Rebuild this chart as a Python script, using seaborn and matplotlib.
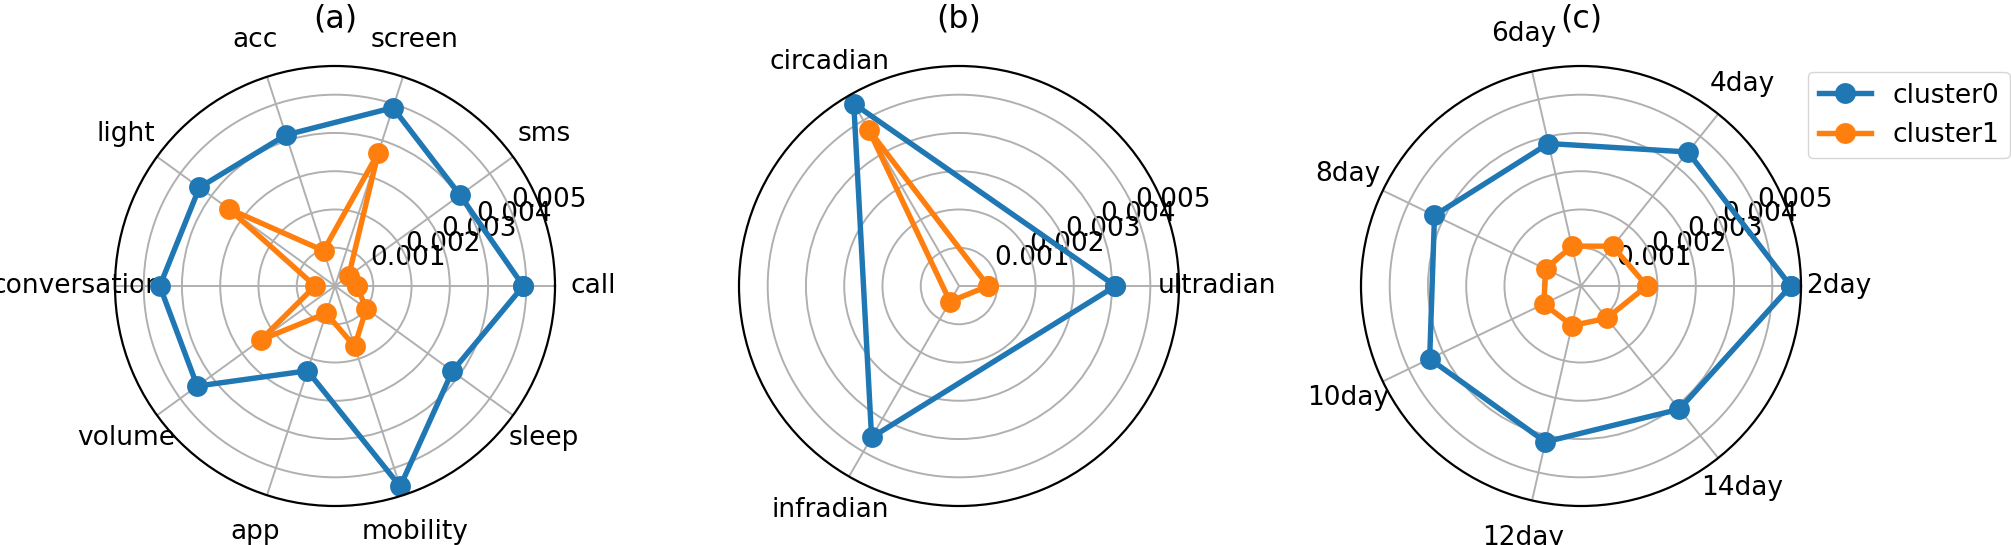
import numpy as np
import pandas as pd
import matplotlib
matplotlib.use("Agg")
import matplotlib.pyplot as plt
import seaborn as sns

# ---- data ----
feat_a = ["call", "sms", "screen", "acc", "light", "conversation",
          "volume", "app", "mobility", "sleep"]
c0_a = [0.00492, 0.00404, 0.00490, 0.00415, 0.00438, 0.00458,
        0.00445, 0.00233, 0.00551, 0.00379]
c1_a = [0.00057, 0.00044, 0.00366, 0.00097, 0.00344, 0.00052,
        0.00240, 0.00075, 0.00166, 0.00101]

feat_b = ["ultradian", "circadian", "infradian"]
c0_b = [0.00409, 0.00550, 0.00457]
c1_b = [0.00076, 0.00472, 0.00047]

feat_c = ["2day", "4day", "6day", "8day", "10day", "12day", "14day"]
c0_c = [0.00548, 0.00448, 0.00382, 0.00425, 0.00439, 0.00418, 0.00412]
c1_c = [0.00172, 0.00133, 0.00107, 0.00102, 0.00108, 0.00106, 0.00108]

titles = ["(a)", "(b)", "(c)"]
cluster_names = ["cluster0", "cluster1"]
rticks = [0.001, 0.002, 0.003, 0.004, 0.005]
colors = ["#1f77b4", "#ff7f0e"]

plt.rcParams["font.family"] = ["DejaVu Sans"]
plt.rcParams["font.size"] = 19
plt.rcParams["axes.titlesize"] = 22.8

fig = plt.figure(figsize=(20.11, 5.45), dpi=100)
W, H = 2011, 545
centers_x = [335, 959, 1581]
cy, R = 286, 220

panels = [(feat_a, c0_a, c1_a), (feat_b, c0_b, c1_b), (feat_c, c0_c, c1_c)]
for i, (feats, v0, v1) in enumerate(panels):
    cx = centers_x[i]
    ax = fig.add_axes([(cx - R) / W, (H - cy - R) / H, 2 * R / W, 2 * R / H],
                      projection="polar")
    n = len(feats)
    ang = np.linspace(0, 2 * np.pi, n, endpoint=False)
    for k, vals in enumerate([v0, v1]):
        df = pd.DataFrame({"theta": np.append(ang, 2 * np.pi),
                           "r": np.append(vals, vals[0])})
        sns.lineplot(data=df, x="theta", y="r", sort=False, estimator=None,
                     ax=ax, color=colors[k], marker="o", markersize=15,
                     linewidth=3.9, markeredgecolor=colors[k],
                     markeredgewidth=0, legend=False)
    ax.set_xlabel("")
    ax.set_ylabel("")
    ax.set_xticks(ang)
    ax.set_xticklabels(feats)
    ax.set_yticks(rticks)
    ax.set_yticklabels([f"{t:.3f}" for t in rticks])
    ax.set_ylim(0, 0.00575)
    ax.set_rlabel_position(22.5)
    ax.tick_params(axis="x", pad=17)
    ax.grid(True, color="#b0b0b0", linewidth=1.4)
    ax.spines["polar"].set_linewidth(1.6)
    ax.spines["polar"].set_color("black")
    ax.set_title(titles[i], y=1.0, pad=28)
    if i == 2:
        ax.legend(ax.lines[:2], cluster_names, loc="upper left",
                  bbox_to_anchor=(1.0 + 7 / 440, 1.0 - 6 / 440),
                  borderaxespad=0, fontsize=19)

fig.savefig("out.png", dpi=100)
